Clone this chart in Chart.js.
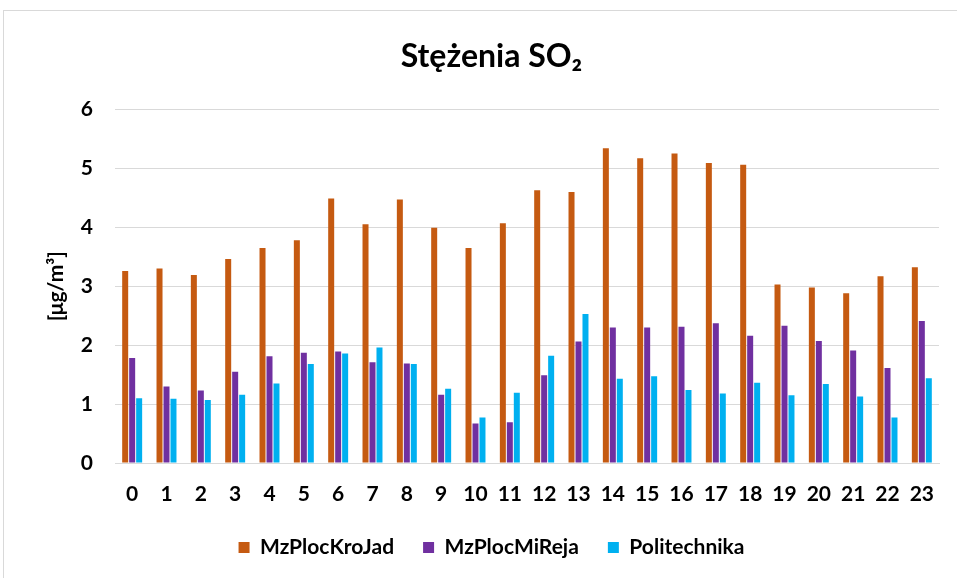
<!DOCTYPE html>
<html>
<head>
<meta charset="utf-8">
<script src="https://cdn.jsdelivr.net/npm/chart.js@4"></script>
<style>
  html, body { margin: 0; padding: 0; background: #fff; overflow: hidden; }
  #wrap { position: relative; width: 957px; height: 578px; }
  #frame { position: absolute; left: 3px; top: 10px; width: 970px; height: 600px; border: 1px solid #d9d9d9; box-sizing: border-box; }
  canvas { position: absolute; left: 0; top: 0; }
</style>
</head>
<body>
<div id="wrap">
  <div id="frame"></div>
  <canvas id="chart" width="957" height="578"></canvas>
</div>
<script>
// hours of the day
const hours = ['0','1','2','3','4','5','6','7','8','9','10','11','12','13','14','15','16','17','18','19','20','21','22','23'];

// SO2 concentrations [µg/m3] per station
const mzPlocKroJad = [3.26, 3.30, 3.19, 3.46, 3.65, 3.78, 4.49, 4.05, 4.47, 3.99, 3.65, 4.07,
                      4.63, 4.60, 5.34, 5.17, 5.25, 5.09, 5.06, 3.03, 2.98, 2.88, 3.17, 3.32];
const mzPlocMiReja = [1.78, 1.30, 1.23, 1.55, 1.81, 1.87, 1.89, 1.71, 1.69, 1.16, 0.67, 0.69,
                      1.49, 2.06, 2.30, 2.30, 2.31, 2.37, 2.16, 2.33, 2.07, 1.91, 1.61, 2.41];
const politechnika = [1.10, 1.09, 1.07, 1.16, 1.35, 1.68, 1.86, 1.96, 1.68, 1.26, 0.77, 1.19,
                      1.82, 2.53, 1.43, 1.47, 1.24, 1.18, 1.36, 1.15, 1.34, 1.13, 0.77, 1.44];

const yTicks = [0, 1, 2, 3, 4, 5, 6];

const FONT = 'Lato, "Open Sans", sans-serif';

const ctx = document.getElementById('chart').getContext('2d');

new Chart(ctx, {
  type: 'bar',
  data: {
    labels: hours,
    datasets: [
      { label: 'MzPlocKroJad', data: mzPlocKroJad, backgroundColor: '#C55A11' },
      { label: 'MzPlocMiReja', data: mzPlocMiReja, backgroundColor: '#7030A0' },
      { label: 'Politechnika', data: politechnika, backgroundColor: '#00B0F0' }
    ]
  },
  options: {
    responsive: false,
    animation: false,
    datasets: {
      bar: { categoryPercentage: 0.61, barPercentage: 0.86, borderWidth: 0 }
    },
    layout: { padding: { left: 44, right: 18, top: 12, bottom: 10 } },
    plugins: {
      title: {
        display: true,
        text: 'Stężenia SO₂',
        color: '#000',
        font: { family: FONT, size: 32, weight: 'bold' },
        padding: { top: 25, bottom: 34 }
      },
      legend: {
        position: 'bottom',
        labels: {
          color: '#000',
          font: { family: FONT, size: 21, weight: 'bold' },
          boxWidth: 11,
          boxHeight: 11,
          padding: 29
        }
      },
      tooltip: { enabled: false }
    },
    scales: {
      x: {
        grid: { display: false, drawTicks: false },
        border: { color: '#d9d9d9' },
        ticks: {
          color: '#000',
          font: { family: FONT, size: 21, weight: 'bold' },
          padding: 19,
          maxRotation: 0,
          autoSkip: false
        },
        afterFit: (scale) => { scale.height = 45; }
      },
      y: {
        min: 0,
        max: 6,
        afterBuildTicks: (scale) => { scale.ticks = yTicks.map(v => ({ value: v })); },
        grid: { color: '#d9d9d9', lineWidth: 1, drawTicks: false },
        border: { display: false },
        ticks: {
          color: '#000',
          font: { family: FONT, size: 21, weight: 'bold' },
          padding: 22
        },
        title: {
          display: true,
          text: '[μg/m³]',
          color: '#000',
          font: { family: FONT, size: 21, weight: 'bold' },
          padding: 0
        },
        afterFit: (scale) => { scale.width = 71; }
      }
    }
  }
});
</script>
</body>
</html>
